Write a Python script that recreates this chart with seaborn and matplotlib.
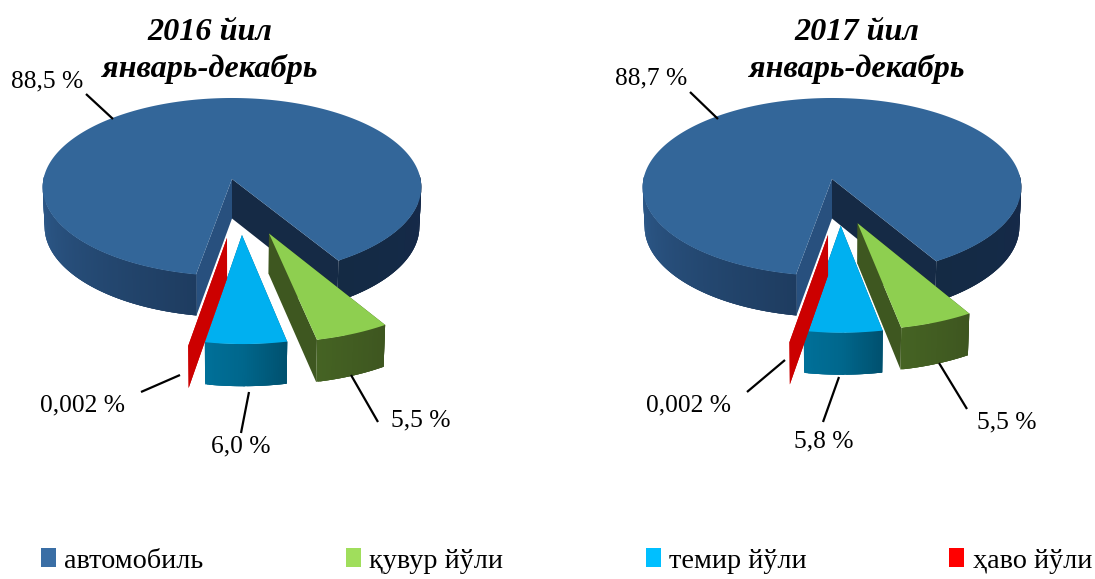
# -*- coding: utf-8 -*-
"""Two exploded 3D-look pies: freight share by transport type, 2016 and 2017."""

import numpy as np
import matplotlib
matplotlib.use("Agg")
import matplotlib.pyplot as plt
from matplotlib.patches import Patch
import seaborn as sns

# ========== DATA ==========
CATEGORIES = ["автомобиль", "қувур йўли", "темир йўли", "ҳаво йўли"]
SHARES_2016 = [88.5, 5.5, 6.0, 0.002]
SHARES_2017 = [88.7, 5.5, 5.8, 0.002]
LABELS_2016 = ["88,5 %", "5,5 %", "6,0 %", "0,002 %"]
LABELS_2017 = ["88,7 %", "5,5 %", "5,8 %", "0,002 %"]
TITLE_2016 = "2016 йил\nянварь-декабрь"
TITLE_2017 = "2017 йил\nянварь-декабрь"

# ========== LAYOUT / STYLE ==========
LEGEND_COLORS = ["#3a6ea5", "#a0de5c", "#00bfff", "#ff0000"]
TOP_COLORS = ["#336699", "#8ecf50", "#00b0f0", "#cc0000"]
# cut faces: (face at the slice's low angle edge, face at its high angle edge)
FACE_COLORS = [("#152a45", "#28507e"), ("#3e5720", "#3e5720"),
               ("#00607f", "#00607f"), ("#cc0000", "#cc0000")]
# outer wall gradients, left of the front point and right of it
WALL_COLORS = [(("#2e5c8e", "#1e3c60"), ("#142a44", "#15294a")),
               (("#456323", "#456323"), ("#456323", "#3e5620")),
               (("#007099", "#00668b"), ("#00668b", "#00506e")),
               (("#cc0000", "#cc0000"), ("#cc0000", "#cc0000"))]

START_ANGLE = -10.0   # degrees from "towards viewer", first slice runs clockwise
PERSPECTIVE = 0.09
RX, RY = 188.5, 88.3
DEPTH = 39.5
# slice offsets in the pie's plane (sideways, towards viewer)
EXPLODE_2016 = [(0, 0), (0.186, 0.585), (0.05, 0.60), (-0.025, 0.63)]
EXPLODE_2017 = [(0, 0), (0.13, 0.48), (0.044, 0.505), (-0.02, 0.60)]
# label centre, leader start, leader end, in pixels of the reference
PLACES_2016 = [((47, 81), (86, 94), (113, 119)), ((421, 420), (378, 422), (351, 375)),
               ((241, 446), (241, 433), (249, 392)), ((83, 405), (141, 392), (180, 375))]
PLACES_2017 = [((651, 78), (690, 92), (718, 119)), ((1007, 422), (967, 409), (939, 363)),
               ((824, 441), (823, 422), (839, 377)), ((689, 405), (747, 392), (785, 360))]
SERIF = "Liberation Serif"


def project(cx, cy, u, v, z):
    """Plane point (u, v), height z (0 top, 1 bottom) to picture coordinates."""
    s = 1.0 / (1.0 - PERSPECTIVE * v)
    x = cx + RX * u * s * (1.0 - 0.01 * z)
    y = cy + RY * v * s + DEPTH * z * (1.0 + 0.4 * (s - 1.0))
    return x, y


def draw_slice(ax, cx, cy, low, high, offset, idx):
    """One slice spanning angles low..high (degrees); faces, wall, then top."""
    du, dv = offset
    theta = np.radians(np.linspace(low, high, max(int(high - low) * 2, 2)))
    u = du + np.sin(theta)
    v = dv + np.cos(theta)

    # cut faces
    for k, edge in enumerate([theta[0], theta[-1]]):
        ue, ve = du + np.sin(edge), dv + np.cos(edge)
        corners = [project(cx, cy, du, dv, 0), project(cx, cy, ue, ve, 0),
                   project(cx, cy, ue, ve, 1), project(cx, cy, du, dv, 1)]
        ax.fill(*zip(*corners), color=FACE_COLORS[idx][k], lw=0)

    # outer wall, only the side that faces the viewer; each strip runs under the next
    wrapped = (np.degrees(theta) + 180) % 360 - 180
    for side, mask in enumerate([(wrapped < 1) & (wrapped > -93), (wrapped >= 0) & (wrapped < 93)]):
        ids = np.where(mask)[0]
        if len(ids) < 2:
            continue
        ramp = sns.blend_palette(WALL_COLORS[idx][side], len(ids))
        order = ids[np.argsort(wrapped[ids])]
        for n, col in zip(range(len(order) - 1), ramp):
            a, b = order[n], order[min(n + 3, len(order) - 1)]
            quad = [project(cx, cy, u[a], v[a], 0), project(cx, cy, u[b], v[b], 0),
                    project(cx, cy, u[b], v[b], 1), project(cx, cy, u[a], v[a], 1)]
            ax.fill(*zip(*quad), color=col, lw=0)

    # top surface, a zero-width slice has none to show
    if high - low > 0.5:
        xs, ys = project(cx, cy, u, v, 0)
        ax0, ay0 = project(cx, cy, du, dv, 0)
        ax.fill(np.r_[ax0, xs], np.r_[ay0, ys], color=TOP_COLORS[idx], lw=0)


def draw_pie(ax, cx, cy, shares, labels, title, explode, places, title_x):
    spans = 360.0 * np.array(shares) / np.sum(shares)
    end = START_ANGLE
    for idx, span in enumerate(spans):
        # big slice wraps round the back, the others follow it clockwise
        draw_slice(ax, cx, cy, end - span, end, explode[idx], idx)
        end -= span

    for text, (centre, start, stop) in zip(labels, places):
        ax.plot(*zip(start, stop), color="black", lw=1.6, solid_capstyle="butt")
        ax.text(*centre, text, ha="center", va="center", fontsize=18.4, family=SERIF, color="black")

    ax.text(title_x, 51, title, ha="center", va="center", fontsize=23.2, family=SERIF, color="black",
            fontweight="bold", fontstyle="italic", linespacing=1.3)


def main():
    sns.set_theme(style="white")
    fig, ax = plt.subplots(figsize=(10.95, 5.79), dpi=100)
    fig.subplots_adjust(0, 0, 1, 1)
    ax.set_xlim(0, 1095)
    ax.set_ylim(579, 0)
    ax.axis("off")

    draw_pie(ax, 232, 179, SHARES_2016, LABELS_2016, TITLE_2016, EXPLODE_2016, PLACES_2016, 210)
    draw_pie(ax, 832, 179, SHARES_2017, LABELS_2017, TITLE_2017, EXPLODE_2017, PLACES_2017, 857)

    handles = [Patch(facecolor=c, edgecolor="none") for c in LEGEND_COLORS]
    ax.legend(handles, CATEGORIES, ncol=4, frameon=False, loc="center left",
              bbox_to_anchor=(41 / 1095, 1 - 561 / 579), borderaxespad=0, borderpad=0,
              prop={"family": SERIF, "size": 20.3}, handlelength=0.53, handleheight=0.67,
              handletextpad=0.3, columnspacing=5.05, labelcolor="black")

    fig.savefig("out.png", dpi=100)
    plt.close(fig)


if __name__ == "__main__":
    main()
